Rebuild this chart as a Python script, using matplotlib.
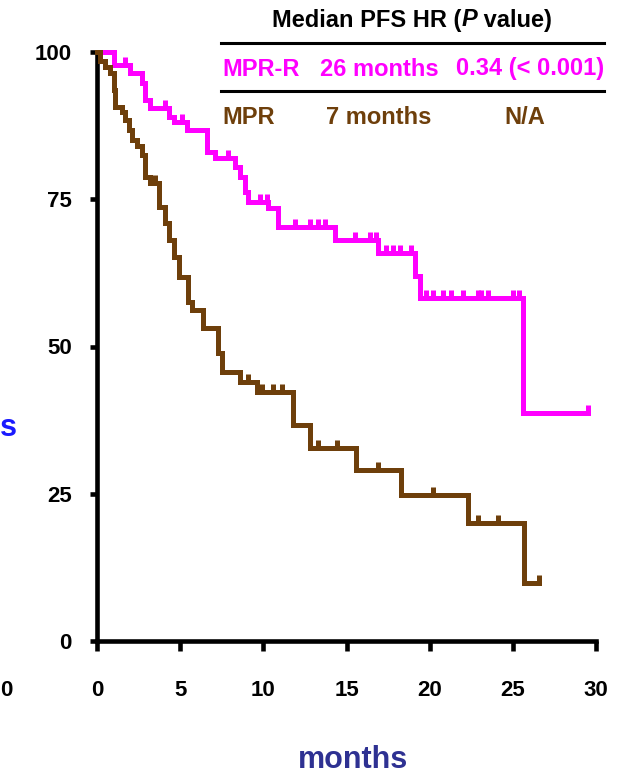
import matplotlib
matplotlib.use("Agg")
import matplotlib.pyplot as plt
from matplotlib.lines import Line2D
from matplotlib.path import Path
import numpy as np

plt.rcParams['font.family'] = ['Liberation Sans', 'DejaVu Sans']

# ---------------- data ----------------
mprr_times = [0, 1.0, 2.0, 2.7, 2.9, 3.2, 4.3, 4.6, 5.4, 6.6, 7.1, 8.3, 8.6, 8.9, 9.1,
              10.3, 10.9, 14.3, 16.9, 19.1, 19.4, 25.6]
mprr_surv = [100, 97.8, 96.4, 94.7, 91.8, 90.5, 89.0, 88.1, 86.8, 83.0, 82.0, 80.5, 78.8,
             76.2, 74.5, 73.5, 70.3, 68.1, 65.9, 62.0, 58.2, 38.7]
mprr_end = 29.5
mprr_censor = [1.7, 4.1, 5.1, 7.9, 9.8, 10.2, 11.9, 12.8, 13.3, 13.7, 15.5, 16.4, 16.8,
               17.4, 17.8, 18.2, 18.9, 19.8, 20.2, 20.8, 21.3, 22.0, 22.9, 23.1, 23.5,
               25.0, 25.4, 29.5]

mpr_times = [0, 0.2, 0.5, 0.8, 1.0, 1.1, 1.5, 1.7, 1.9, 2.1, 2.4, 2.7, 2.9, 3.2, 3.7,
             4.1, 4.3, 4.6, 4.9, 5.5, 5.7, 6.4, 7.3, 7.5, 8.6, 9.6, 11.8, 12.8, 15.6,
             18.3, 22.3, 25.7]
mpr_surv = [100, 98.5, 97.4, 96.4, 93.5, 90.7, 89.8, 88.5, 86.8, 85.1, 84.0, 82.5, 78.8,
            77.8, 73.7, 71.0, 68.1, 65.2, 61.8, 57.6, 56.2, 53.1, 48.9, 45.7, 44.0, 42.3,
            36.7, 32.8, 29.0, 24.8, 20.0, 9.8]
mpr_end = 26.6
mpr_censor = [3.5, 9.1, 9.9, 10.6, 11.1, 13.3, 14.4, 16.9, 20.2, 22.9, 24.1, 26.6]

x_ticks = [0, 5, 10, 15, 20, 25, 30]
y_ticks = [0, 25, 50, 75, 100]

table_header = ["Median PFS HR (", "P", " value)"]
row_mprr = ["MPR-R", "26 months", "0.34 (< 0.001)"]
row_mpr = ["MPR", "7 months", "N/A"]

PINK = '#FF00FF'
BROWN = '#6E3F0B'

# ---------------- figure ----------------
W, H = 621, 776
fig = plt.figure(figsize=(W / 100, H / 100), dpi=100)


def fx(px):
    return px / W


def fy(py):
    return 1 - py / H


ax = fig.add_axes([fx(97), fy(641), fx(596) - fx(97), fy(52) - fy(641)])
ax.set_xlim(0, 30)
ax.set_ylim(0, 100)

censor_marker = Path([(0, 0), (0, 1)])
LW = 3.6


def draw_curve(times, surv, end, censor, color):
    t = list(times) + [end]
    s = list(surv) + [surv[-1]]
    ax.step(t, s, where='post', color=color, lw=LW, clip_on=False,
            solid_joinstyle='miter', zorder=3)
    ct = np.array(censor)
    idx = np.searchsorted(np.array(times), ct, side='right') - 1
    cs = np.array(surv)[idx]
    ax.plot(ct, cs, linestyle='none', marker=censor_marker, markersize=12,
            markeredgewidth=LW, color=color, clip_on=False, zorder=3)


draw_curve(mprr_times, mprr_surv, mprr_end, mprr_censor, PINK)
draw_curve(mpr_times, mpr_surv, mpr_end, mpr_censor, BROWN)

for sp in ['top', 'right']:
    ax.spines[sp].set_visible(False)
for sp in ['left', 'bottom']:
    ax.spines[sp].set_linewidth(3.3)
ax.set_xticks(x_ticks)
ax.set_yticks(y_ticks)
ax.set_xticklabels([str(v) for v in x_ticks], fontsize=16, fontweight='bold')
ax.set_yticklabels([str(v) for v in y_ticks], fontsize=16, fontweight='bold')
ax.tick_params(axis='x', length=7, width=3.3, pad=21)
ax.tick_params(axis='y', length=5, width=3.3, pad=13)

# cropped fragments from neighbouring panel
fig.text(fx(0), fy(428), "s", color='#1A1AFF', fontsize=22, fontweight='bold',
         ha='left', va='center')
fig.text(fx(0), fy(690), "0", color='black', fontsize=16, fontweight='bold',
         ha='left', va='center')
fig.text(fx(353), fy(760), "months", color='#2E3192', fontsize=22, fontweight='bold',
         ha='center', va='center')

# ---------------- table ----------------
TFS = 17
renderer = fig.canvas.get_renderer()
styles = ['normal', 'italic', 'normal']
pieces = []
for txt, st in zip(table_header, styles):
    t = fig.text(0, fy(20), txt, fontsize=TFS, fontweight='bold', style=st,
                 ha='left', va='center', color='black')
    pieces.append(t)
widths = [p.get_window_extent(renderer).width for p in pieces]
total = sum(widths)
x0 = 412 - total / 2
for p, w in zip(pieces, widths):
    p.set_x(fx(x0))
    x0 += w

fig.add_artist(Line2D([fx(221), fx(604)], [fy(43), fy(43)], color='black', lw=2.2))
fig.add_artist(Line2D([fx(221), fx(604)], [fy(91), fy(91)], color='black', lw=2.2))

fig.text(fx(222), fy(69), row_mprr[0], color=PINK, fontsize=TFS, fontweight='bold',
         ha='left', va='center')
fig.text(fx(379), fy(69), row_mprr[1], color=PINK, fontsize=TFS, fontweight='bold',
         ha='center', va='center')
fig.text(fx(604), fy(69), row_mprr[2], color=PINK, fontsize=TFS, fontweight='bold',
         ha='right', va='center')

fig.text(fx(222), fy(117), row_mpr[0], color=BROWN, fontsize=TFS, fontweight='bold',
         ha='left', va='center')
fig.text(fx(379), fy(117), row_mpr[1], color=BROWN, fontsize=TFS, fontweight='bold',
         ha='center', va='center')
fig.text(fx(525), fy(117), row_mpr[2], color=BROWN, fontsize=TFS, fontweight='bold',
         ha='center', va='center')

fig.savefig("out.png", dpi=100)
